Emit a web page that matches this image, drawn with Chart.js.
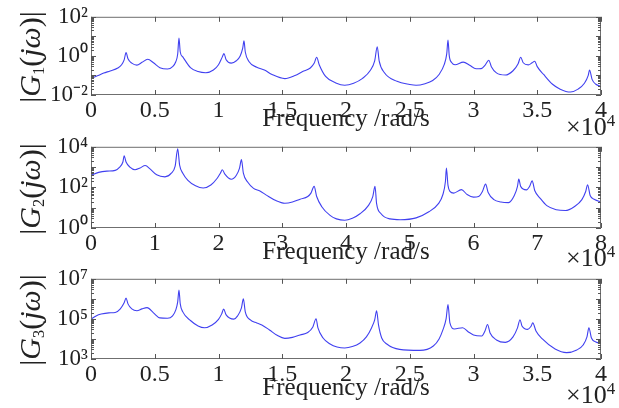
<!DOCTYPE html>
<html>
<head>
<meta charset="utf-8">
<script src="https://cdn.jsdelivr.net/npm/chart.js@4.4.1/dist/chart.umd.min.js"></script>
<style>
  html, body { margin: 0; padding: 0; background: #fff; }
  #wrap { position: relative; width: 619px; height: 408px; overflow: hidden; font-family: 'Liberation Serif', 'Times New Roman', serif; color: #222; }
  canvas { position: absolute; left: 0; }
  .ylab { position: absolute; font-size: 30px; line-height: 1; white-space: nowrap; transform: translate(-50%, -50%) rotate(-90deg); }
  .ylab sub { font-size: 55%; vertical-align: -0.25em; }
  .xlab { position: absolute; font-size: 25px; line-height: 1; white-space: nowrap; transform: translateX(-50%); }
  .mult { position: absolute; font-size: 26px; line-height: 1; white-space: nowrap; }
  .mult sup { font-size: 65%; vertical-align: 0.55em; }
</style>
</head>
<body>
<div id="wrap">
  <canvas id="c1" width="619" height="125" style="top:0px"></canvas>
  <canvas id="c2" width="619" height="125" style="top:130px"></canvas>
  <canvas id="c3" width="619" height="125" style="top:262px"></canvas>

  <div class="ylab" style="left:31px; top:57px">|<i>G</i><sub>1</sub>(<i>j</i><i>ω</i>)|</div>
  <div class="ylab" style="left:31px; top:189px">|<i>G</i><sub>2</sub>(<i>j</i><i>ω</i>)|</div>
  <div class="ylab" style="left:31px; top:320px">|<i>G</i><sub>3</sub>(<i>j</i><i>ω</i>)|</div>

  <div class="xlab" style="left:346px; top:105px">Frequency /rad/s</div>
  <div class="xlab" style="left:346px; top:238px">Frequency /rad/s</div>
  <div class="xlab" style="left:346px; top:374px">Frequency /rad/s</div>

  <div class="mult" style="left:566px; top:113px">×10<sup>4</sup></div>
  <div class="mult" style="left:566px; top:244px">×10<sup>4</sup></div>
  <div class="mult" style="left:566px; top:381px">×10<sup>4</sup></div>
</div>
<script>
// --- DATA (frequency in units of 1e4 rad/s, magnitude as log10 exponent) ---
const freq1 = [0.00, 0.05, 0.10, 0.15, 0.21, 0.24, 0.26, 0.275, 0.29, 0.32, 0.36, 0.40, 0.445, 0.49, 0.54, 0.60, 0.64, 0.665, 0.68, 0.69, 0.70, 0.72, 0.78, 0.84, 0.90, 0.96, 1.00, 1.03, 1.043, 1.06, 1.10, 1.14, 1.17, 1.19, 1.20, 1.21, 1.24, 1.30, 1.36, 1.42, 1.52, 1.60, 1.66, 1.72, 1.75, 1.77, 1.79, 1.84, 1.92, 1.99, 2.06, 2.13, 2.19, 2.225, 2.245, 2.26, 2.30, 2.40, 2.50, 2.55, 2.62, 2.68, 2.73, 2.77, 2.79, 2.80, 2.81, 2.83, 2.855, 2.92, 2.97, 3.02, 3.06, 3.09, 3.12, 3.14, 3.18, 3.25, 3.31, 3.35, 3.37, 3.39, 3.43, 3.46, 3.48, 3.50, 3.55, 3.62, 3.68, 3.76, 3.82, 3.87, 3.90, 3.91, 3.93, 3.96, 4.00];
const g1Exp = [-1.16, -1.02, -0.88, -0.77, -0.62, -0.45, -0.20, 0.17, -0.15, -0.37, -0.47, -0.33, -0.17, -0.35, -0.60, -0.67, -0.55, -0.30, 0.10, 0.91, 0.20, -0.05, -0.60, -0.80, -0.86, -0.72, -0.45, -0.05, 0.12, -0.20, -0.37, -0.25, 0.00, 0.40, 0.77, 0.20, -0.30, -0.58, -0.72, -0.95, -1.16, -1.00, -0.80, -0.62, -0.38, -0.07, -0.45, -1.05, -1.38, -1.50, -1.40, -1.15, -0.75, -0.25, 0.47, -0.25, -0.85, -1.30, -1.46, -1.50, -1.42, -1.26, -0.95, -0.45, 0.10, 0.81, 0.00, -0.35, -0.45, -0.32, -0.48, -0.66, -0.65, -0.48, -0.22, -0.55, -0.87, -0.98, -0.76, -0.40, -0.07, -0.35, -0.46, -0.35, -0.27, -0.55, -0.95, -1.45, -1.70, -1.85, -1.70, -1.40, -1.00, -0.72, -1.20, -1.45, -1.55];

const freq2 = [0.00, 0.12, 0.25, 0.38, 0.45, 0.50, 0.52, 0.55, 0.61, 0.69, 0.77, 0.85, 0.93, 1.03, 1.16, 1.26, 1.32, 1.36, 1.39, 1.44, 1.52, 1.64, 1.76, 1.88, 1.98, 2.03, 2.06, 2.10, 2.20, 2.28, 2.33, 2.36, 2.39, 2.46, 2.55, 2.65, 2.75, 2.90, 3.04, 3.16, 3.28, 3.40, 3.45, 3.50, 3.54, 3.62, 3.75, 3.85, 3.98, 4.10, 4.22, 4.35, 4.42, 4.455, 4.48, 4.55, 4.69, 4.85, 5.10, 5.30, 5.45, 5.52, 5.56, 5.575, 5.60, 5.63, 5.69, 5.81, 5.90, 6.00, 6.08, 6.14, 6.19, 6.23, 6.32, 6.43, 6.55, 6.64, 6.69, 6.71, 6.74, 6.83, 6.88, 6.92, 6.96, 7.05, 7.15, 7.30, 7.44, 7.58, 7.70, 7.76, 7.79, 7.83, 7.90, 8.00];
const g2Exp = [2.60, 2.74, 2.80, 2.84, 3.00, 3.25, 3.56, 3.25, 3.00, 2.87, 2.96, 3.08, 2.90, 2.62, 2.52, 2.70, 3.05, 3.90, 3.10, 2.70, 2.35, 2.08, 1.97, 2.12, 2.45, 2.70, 2.87, 2.65, 2.40, 2.60, 2.95, 3.37, 2.70, 2.25, 1.95, 1.82, 1.62, 1.35, 1.22, 1.28, 1.42, 1.55, 1.72, 2.05, 1.55, 1.05, 0.62, 0.45, 0.38, 0.48, 0.70, 1.10, 1.55, 2.05, 1.20, 0.70, 0.45, 0.41, 0.50, 0.80, 1.20, 1.65, 2.30, 2.95, 2.10, 1.80, 1.72, 1.89, 1.65, 1.52, 1.55, 1.80, 2.16, 1.75, 1.40, 1.28, 1.25, 1.60, 2.05, 2.41, 2.05, 1.88, 2.05, 2.32, 1.85, 1.45, 1.10, 0.90, 0.86, 1.05, 1.40, 1.80, 2.13, 1.60, 1.40, 1.29];

const freq3 = [0.00, 0.04, 0.08, 0.14, 0.19, 0.23, 0.26, 0.275, 0.29, 0.32, 0.36, 0.40, 0.44, 0.49, 0.54, 0.60, 0.64, 0.665, 0.68, 0.69, 0.70, 0.72, 0.78, 0.84, 0.89, 0.95, 1.00, 1.025, 1.04, 1.06, 1.12, 1.15, 1.18, 1.195, 1.21, 1.25, 1.30, 1.34, 1.40, 1.46, 1.52, 1.58, 1.64, 1.70, 1.74, 1.765, 1.78, 1.82, 1.875, 1.93, 1.99, 2.05, 2.11, 2.16, 2.20, 2.225, 2.24, 2.255, 2.28, 2.32, 2.42, 2.58, 2.685, 2.73, 2.76, 2.785, 2.80, 2.815, 2.85, 2.915, 2.96, 3.00, 3.065, 3.09, 3.11, 3.13, 3.18, 3.25, 3.31, 3.345, 3.365, 3.38, 3.425, 3.45, 3.465, 3.49, 3.54, 3.64, 3.73, 3.81, 3.86, 3.89, 3.905, 3.925, 3.96, 4.00];
const g3Exp = [4.99, 5.15, 5.24, 5.30, 5.32, 5.50, 5.80, 6.04, 5.75, 5.50, 5.41, 5.50, 5.56, 5.30, 5.05, 5.03, 5.15, 5.45, 5.85, 6.44, 5.75, 5.35, 4.92, 4.65, 4.56, 4.70, 4.98, 5.25, 5.49, 5.20, 4.99, 5.15, 5.55, 6.00, 5.35, 4.95, 4.80, 4.70, 4.45, 4.18, 4.03, 4.08, 4.20, 4.32, 4.60, 5.01, 4.55, 4.05, 3.75, 3.60, 3.55, 3.62, 3.80, 4.10, 4.55, 4.95, 5.40, 4.70, 4.05, 3.75, 3.48, 3.43, 3.65, 4.00, 4.45, 5.00, 5.71, 4.80, 4.50, 4.56, 4.35, 4.20, 4.15, 4.40, 4.72, 4.30, 3.95, 3.83, 4.10, 4.55, 4.96, 4.65, 4.48, 4.62, 4.80, 4.40, 4.00, 3.50, 3.32, 3.45, 3.70, 4.10, 4.56, 4.05, 3.85, 3.78];

// axis ranges and tick labels
const xMax = [4, 8, 4];
const xStep = [0.5, 1, 0.5];
const yExpRange = [[-2, 2], [0, 4], [3, 7]];
const yTickExp = [[-2, 0, 2], [0, 2, 4], [3, 5, 7]];
const yTickLabels = [['10⁻²', '10⁰', '10²'], ['10⁰', '10²', '10⁴'], ['10³', '10⁵', '10⁷']];

const FONT = "'Liberation Serif', 'Times New Roman', serif";
const LINE = '#4040f0';

// box + inward ticks, MATLAB style
const isDecade = v => Math.abs(Math.log10(v) - Math.round(Math.log10(v))) < 1e-6;
const boxTicks = {
    id: 'boxTicks',
    afterDraw(chart) {
        const { ctx, chartArea: a, scales: { x, y } } = chart;
        ctx.save();
        ctx.strokeStyle = '#6f6f6f';
        ctx.lineWidth = 1;
        ctx.strokeRect(a.left + 0.5, a.top + 0.5, a.width - 1, a.height - 1);
        ctx.strokeStyle = '#555';
        ctx.beginPath();
        x.ticks.forEach(t => {
            const px = Math.round(x.getPixelForValue(t.value)) + 0.5;
            ctx.moveTo(px, a.bottom); ctx.lineTo(px, a.bottom - 5);
            ctx.moveTo(px, a.top); ctx.lineTo(px, a.top + 5);
        });
        y.ticks.forEach(t => {
            const py = Math.round(y.getPixelForValue(t.value)) + 0.5;
            const len = isDecade(t.value) ? 5 : 3;
            ctx.moveTo(a.left, py); ctx.lineTo(a.left + len, py);
            ctx.moveTo(a.right, py); ctx.lineTo(a.right - len, py);
        });
        ctx.stroke();
        ctx.restore();
    }
};

// page positions of each plot area
const panels = [
    { id: 'c1', top: 0, plotBottom: 95 },
    { id: 'c2', top: 130, plotBottom: 228 },
    { id: 'c3', top: 262, plotBottom: 359 }
];
const series = [[freq1, g1Exp], [freq2, g2Exp], [freq3, g3Exp]];

panels.forEach((p, i) => {
    const [fx, ex] = series[i];
    const [lo, hi] = yExpRange[i];
    const xHeight = p.top + 125 - p.plotBottom;

    new Chart(document.getElementById(p.id), {
        type: 'line',
        data: {
            datasets: [{
                data: fx.map((f, k) => ({ x: f, y: Math.pow(10, ex[k]) })),
                borderColor: LINE,
                borderWidth: 1.1,
                pointRadius: 0,
                cubicInterpolationMode: 'monotone',
                fill: false
            }]
        },
        options: {
            responsive: false,
            animation: false,
            devicePixelRatio: 1,
            layout: { padding: { left: 0, right: 18, top: 14, bottom: 0 } },
            plugins: { legend: { display: false }, tooltip: { enabled: false } },
            scales: {
                x: {
                    type: 'linear',
                    min: 0, max: xMax[i],
                    grid: { display: false, drawTicks: false, tickLength: 0 },
                    border: { display: false },
                    ticks: {
                        stepSize: xStep[i], autoSkip: false, maxRotation: 0, padding: 1,
                        color: '#222', font: { family: FONT, size: 24 },
                        callback: v => String(v)
                    },
                    afterFit: s => { s.height = xHeight; }
                },
                y: {
                    type: 'logarithmic',
                    min: Math.pow(10, lo), max: Math.pow(10, hi),
                    grid: { display: false, drawTicks: false, tickLength: 0 },
                    border: { display: false },
                    afterBuildTicks: s => {
                        const t = [];
                        for (let n = lo; n < hi; n++) {
                            for (let k = 1; k <= 9; k++) t.push({ value: k * Math.pow(10, n) });
                        }
                        t.push({ value: Math.pow(10, hi) });
                        s.ticks = t;
                    },
                    ticks: {
                        autoSkip: false, padding: 3, color: '#222',
                        font: { family: FONT, size: 23 },
                        callback: v => {
                            if (!isDecade(v)) return '';
                            const e = Math.round(Math.log10(v));
                            const j = yTickExp[i].indexOf(e);
                            return j >= 0 ? yTickLabels[i][j] : '';
                        }
                    },
                    afterFit: s => { s.width = 91; }
                }
            }
        },
        plugins: [boxTicks]
    });
});
</script>
</body>
</html>
